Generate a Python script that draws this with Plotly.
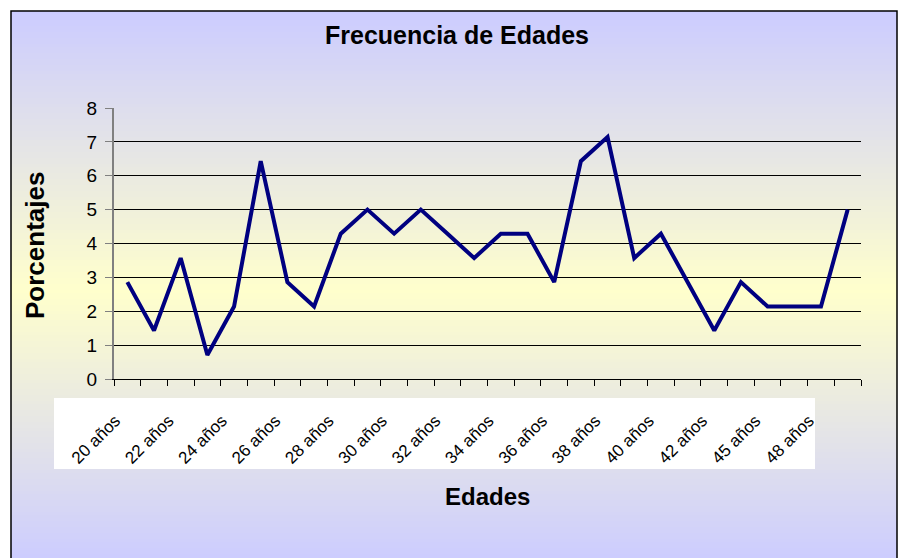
import plotly.graph_objects as go

# Data (percentages)
values = [2.86, 1.43, 3.57, 0.71, 2.14, 6.43, 2.86, 2.14, 4.29, 5.00,
          4.29, 5.00, 4.29, 3.57, 4.29, 4.29, 2.86, 6.43, 7.14, 3.57,
          4.29, 2.86, 1.43, 2.86, 2.14, 2.14, 2.14, 5.00]
categories = list(range(len(values)))
tick_positions = [0, 2, 4, 6, 8, 10, 12, 14, 16, 18, 20, 22, 24, 26]
tick_labels = ["20 años", "22 años", "24 años", "26 años", "28 años",
               "30 años", "32 años", "34 años", "36 años", "38 años",
               "40 años", "42 años", "45 años", "48 años"]

W, H = 898, 558
# plot area in page pixels: x 114..861, y 108..379
L, R, T, B = 114, 898 - 861, 108, 558 - 379
pw, ph = W - L - R, H - T - B

def px2x(px):
    return (px - L) / pw

def py2y(py):
    return (H - B - py) / ph

def mix(c1, c2, f):
    return "rgb(%d,%d,%d)" % tuple(round(a + (b - a) * f) for a, b in zip(c1, c2))

lav = (204, 204, 255)
yel = (255, 255, 204)
shapes = []
top, peak, bottom = 11, 290, 560
step = 3
y = top
while y < bottom:
    if y < peak:
        f = (y - top) / (peak - top)
    else:
        f = 1 - (y - peak) / (bottom - peak)
    shapes.append(dict(type="rect", xref="paper", yref="paper",
                       x0=px2x(11), x1=px2x(897), y0=py2y(y + step + 0.5), y1=py2y(y),
                       fillcolor=mix(lav, yel, f), line=dict(width=0), layer="below"))
    y += step

# white label box
shapes.append(dict(type="rect", xref="paper", yref="paper",
                   x0=px2x(54), x1=px2x(815), y0=py2y(469), y1=py2y(398),
                   fillcolor="white", line=dict(width=0), layer="below"))
# chart border
shapes.append(dict(type="rect", xref="paper", yref="paper",
                   x0=px2x(11), x1=px2x(897), y0=py2y(570), y1=py2y(11),
                   fillcolor="rgba(0,0,0,0)", line=dict(color="black", width=1.5), layer="above"))

fig = go.Figure()
fig.add_trace(go.Scatter(x=categories, y=values, mode="lines",
                         line=dict(color="#000080", width=4), showlegend=False,
                         hoverinfo="y"))

fig.update_layout(
    width=W, height=H,
    margin=dict(l=L, r=R, t=T, b=B, autoexpand=False),
    paper_bgcolor="white", plot_bgcolor="rgba(0,0,0,0)",
    font=dict(family="Liberation Sans, Arial, sans-serif", color="black"),
    shapes=shapes,
    annotations=[
        dict(text="<b>Frecuencia de Edades</b>", xref="paper", yref="paper",
             x=px2x(457), y=py2y(35), showarrow=False, font=dict(size=25, color="black"),
             xanchor="center", yanchor="middle"),
        dict(text="<b>Edades</b>", xref="paper", yref="paper", x=px2x(487), y=py2y(497),
             showarrow=False, font=dict(size=24, color="black"), xanchor="center", yanchor="middle"),
        dict(text="<b>Porcentajes</b>", xref="paper", yref="paper", x=px2x(35), y=py2y(246),
             showarrow=False, font=dict(size=26, color="black"), textangle=-90,
             xanchor="center", yanchor="middle"),
    ],
)

fig.update_xaxes(range=[-0.5, 27.5], tickmode="array", tickvals=tick_positions,
                 ticktext=tick_labels, tickangle=-45, ticks="", ticklabelstandoff=24,
                 ticklabelshift=-12,
                 tickfont=dict(size=17, color="black"),
                 showgrid=False, zeroline=False, showline=True, linecolor="black", linewidth=1,
                 minor=dict(tickmode="array", tickvals=[i - 0.5 for i in range(len(values) + 1)],
                            ticks="outside", ticklen=6, tickcolor="black", tickwidth=1,
                            showgrid=False))
fig.update_yaxes(range=[0, 8], dtick=1, tick0=0, ticks="outside", ticklen=7,
                 tickcolor="#808080", tickwidth=1, ticklabelstandoff=4,
                 tickfont=dict(size=19, color="black"),
                 showgrid=True, gridcolor="black", gridwidth=1, zeroline=False,
                 showline=True, linecolor="#808080", linewidth=2)

fig.write_html("out.html", config={"displayModeBar": False},
               post_script="document.body.style.margin='0';document.body.style.overflow='hidden';")
